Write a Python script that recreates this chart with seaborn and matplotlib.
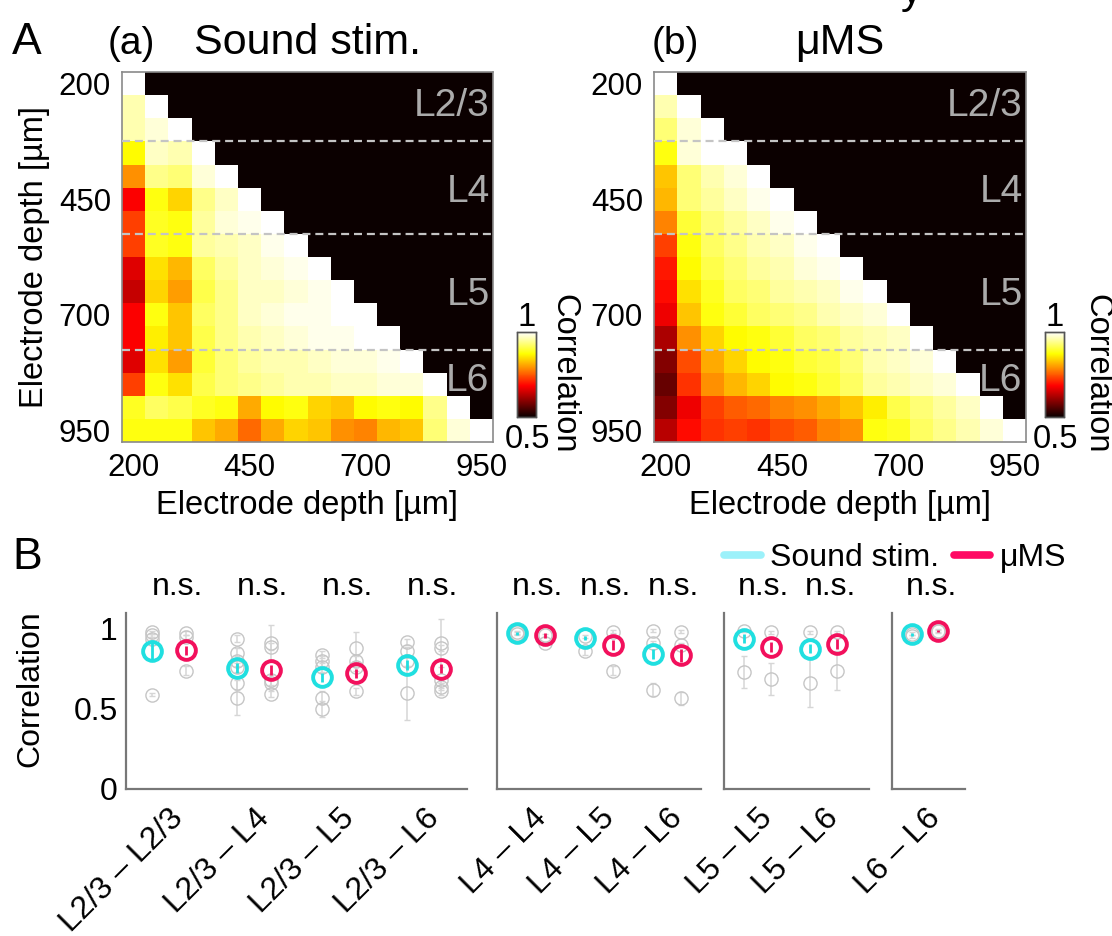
import numpy as np
import pandas as pd
import matplotlib
matplotlib.use("Agg")
import matplotlib.pyplot as plt
import seaborn as sns
from matplotlib.lines import Line2D

# ---------------- data ----------------
depths = [200, 250, 300, 350, 400, 450, 500, 550, 600, 650, 700, 750, 800, 850, 900, 950]
depth_ticks = [200, 450, 700, 950]
layer_names = ["L2/3", "L4", "L5", "L6"]
layer_bounds = [3, 7, 12]          # electrode index where a new layer begins

sound_rows = [
    [1.00],
    [0.96, 1.00],
    [0.96, 0.98, 1.00],
    [0.87, 0.97, 0.96, 1.00],
    [0.79, 0.94, 0.93, 0.98, 1.00],
    [0.68, 0.88, 0.84, 0.94, 0.97, 1.00],
    [0.73, 0.89, 0.88, 0.95, 0.98, 0.99, 1.00],
    [0.73, 0.89, 0.88, 0.95, 0.96, 0.97, 0.99, 1.00],
    [0.66, 0.85, 0.82, 0.92, 0.95, 0.97, 0.98, 0.99, 1.00],
    [0.64, 0.84, 0.80, 0.91, 0.94, 0.97, 0.97, 0.98, 0.99, 1.00],
    [0.68, 0.88, 0.83, 0.92, 0.94, 0.97, 0.98, 0.99, 0.99, 1.00, 1.00],
    [0.68, 0.86, 0.83, 0.91, 0.94, 0.96, 0.97, 0.98, 0.99, 0.99, 1.00, 1.00],
    [0.66, 0.85, 0.80, 0.90, 0.93, 0.95, 0.96, 0.96, 0.97, 0.98, 0.98, 0.99, 1.00],
    [0.73, 0.88, 0.85, 0.91, 0.93, 0.94, 0.95, 0.96, 0.96, 0.97, 0.97, 0.98, 0.98, 1.00],
    [0.89, 0.92, 0.91, 0.89, 0.88, 0.81, 0.87, 0.88, 0.84, 0.83, 0.87, 0.88, 0.87, 0.94, 1.00],
    [0.88, 0.88, 0.88, 0.83, 0.81, 0.76, 0.81, 0.84, 0.83, 0.79, 0.78, 0.82, 0.83, 0.93, 0.98, 1.00],
]

ums_rows = [
    [1.00],
    [0.96, 1.00],
    [0.93, 0.98, 1.00],
    [0.88, 0.98, 1.00, 1.00],
    [0.83, 0.93, 0.96, 0.98, 1.00],
    [0.82, 0.93, 0.95, 0.97, 0.99, 1.00],
    [0.78, 0.90, 0.93, 0.95, 0.97, 0.99, 1.00],
    [0.73, 0.88, 0.92, 0.94, 0.96, 0.97, 0.99, 1.00],
    [0.70, 0.87, 0.91, 0.93, 0.95, 0.96, 0.98, 0.99, 1.00],
    [0.69, 0.85, 0.89, 0.92, 0.93, 0.95, 0.96, 0.97, 0.99, 1.00],
    [0.67, 0.83, 0.88, 0.90, 0.92, 0.93, 0.94, 0.96, 0.97, 0.98, 1.00],
    [0.62, 0.79, 0.84, 0.87, 0.88, 0.90, 0.92, 0.93, 0.95, 0.96, 0.97, 1.00],
    [0.59, 0.74, 0.81, 0.84, 0.87, 0.88, 0.90, 0.91, 0.93, 0.96, 0.97, 0.98, 1.00],
    [0.57, 0.72, 0.79, 0.82, 0.84, 0.87, 0.88, 0.90, 0.92, 0.95, 0.96, 0.97, 0.98, 1.00],
    [0.59, 0.67, 0.73, 0.75, 0.76, 0.78, 0.79, 0.81, 0.83, 0.86, 0.91, 0.93, 0.95, 0.97, 1.00],
    [0.63, 0.69, 0.72, 0.73, 0.72, 0.74, 0.75, 0.78, 0.79, 0.88, 0.89, 0.92, 0.94, 0.96, 0.98, 1.00],
]

pair_groups = [
    ["L2/3 – L2/3", "L2/3 – L4", "L2/3 – L5", "L2/3 – L6"],
    ["L4 – L4", "L4 – L5", "L4 – L6"],
    ["L5 – L5", "L5 – L6"],
    ["L6 – L6"],
]
sig_labels = ["n.s."] * 10

sound_mean = [0.865, 0.757, 0.697, 0.775, 0.972, 0.944, 0.842, 0.940, 0.878, 0.968]
sound_sem = [0.065, 0.030, 0.030, 0.030, 0.010, 0.015, 0.030, 0.030, 0.030, 0.010]
ums_mean = [0.866, 0.745, 0.723, 0.753, 0.961, 0.900, 0.835, 0.889, 0.905, 0.988]
ums_sem = [0.030, 0.030, 0.030, 0.030, 0.015, 0.030, 0.040, 0.030, 0.030, 0.005]

sound_indiv = [
    [0.98, 0.96, 0.94, 0.59],
    [0.94, 0.85, 0.80, 0.76, 0.66, 0.57],
    [0.84, 0.80, 0.76, 0.57, 0.50],
    [0.92, 0.86, 0.80, 0.60],
    [0.98, 0.97],
    [0.955, 0.86],
    [0.99, 0.915, 0.62],
    [0.99, 0.73],
    [0.98, 0.665],
    [0.97, 0.955],
]
sound_indiv_err = [
    [0.01, 0.01, 0.01, 0.01],
    [0.02, 0.03, 0.03, 0.03, 0.04, 0.11],
    [0.02, 0.03, 0.03, 0.04, 0.05],
    [0.02, 0.03, 0.03, 0.17],
    [0.01, 0.01],
    [0.01, 0.02],
    [0.01, 0.01, 0.04],
    [0.01, 0.10],
    [0.01, 0.15],
    [0.01, 0.01],
]
ums_indiv = [
    [0.975, 0.95, 0.74],
    [0.915, 0.89, 0.68, 0.66, 0.595],
    [0.88, 0.80, 0.765, 0.61],
    [0.91, 0.88, 0.68, 0.64, 0.61],
    [0.96, 0.91],
    [0.983, 0.74],
    [0.983, 0.90, 0.567],
    [0.98, 0.685],
    [0.98, 0.74],
    [0.99, 0.985],
]
ums_indiv_err = [
    [0.01, 0.01, 0.03],
    [0.11, 0.02, 0.03, 0.03, 0.02],
    [0.10, 0.03, 0.03, 0.02],
    [0.15, 0.02, 0.02, 0.02, 0.02],
    [0.01, 0.01],
    [0.01, 0.03],
    [0.01, 0.01, 0.04],
    [0.01, 0.10],
    [0.01, 0.12],
    [0.01, 0.01],
]

conditions = ["Sound stim.", "μMS"]

# ---------------- style ----------------
sns.set_theme(style="white")
plt.rcParams["font.family"] = ["Liberation Sans", "DejaVu Sans"]
plt.rcParams["mathtext.default"] = "regular"
for key in ["text.color", "axes.labelcolor", "xtick.color", "ytick.color"]:
    plt.rcParams[key] = "black"

W, H = 1112, 936
fig = plt.figure(figsize=(W / 100, H / 100), dpi=100)


def px_axes(x0, y0, x1, y1):
    return fig.add_axes([x0 / W, 1 - y1 / H, (x1 - x0) / W, (y1 - y0) / H])


def tri_matrix(rows):
    n = len(rows)
    m = np.full((n, n), np.nan)
    for i, r in enumerate(rows):
        m[i, :len(r)] = r
    return pd.DataFrame(m, index=depths, columns=depths)


black = plt.get_cmap("hot")(0.0)
label_fs = 23.5
tick_fs = 22.5
b_fs = 23

heat_specs = [
    (sound_rows, (122, 72, 493, 442), (517, 332, 536, 417), 564, "(a)", 108, "Sound stim.", True),
    (ums_rows, (654, 72, 1026, 442), (1045, 332, 1064, 417), 1097, "(b)", 652, "μMS", False),
]

for rows, hbox, cbox, clab_x, tag, tag_x, title, show_ylabel in heat_specs:
    ax = px_axes(*hbox)
    cax = px_axes(*cbox)
    df = tri_matrix(rows)
    ax.set_facecolor(black)
    sns.heatmap(df, ax=ax, cmap="hot", vmin=0.5, vmax=1.0, mask=df.isna(),
                cbar_ax=cax, xticklabels=False, yticklabels=False)
    n = len(depths)
    ax.set_xlim(0, n)
    ax.set_ylim(n, 0)
    tick_pos = [depths.index(d) + 0.5 for d in depth_ticks]
    ax.set_xticks(tick_pos)
    ax.set_xticklabels([str(d) for d in depth_ticks], fontsize=tick_fs, rotation=0)
    ax.set_yticks(tick_pos)
    ax.set_yticklabels([str(d) for d in depth_ticks], fontsize=tick_fs, rotation=0)
    ax.tick_params(length=0, pad=8)
    ax.set_xlabel("Electrode depth [µm]", fontsize=label_fs, labelpad=5)
    if show_ylabel:
        ax.set_ylabel("Electrode depth [µm]", fontsize=label_fs, labelpad=6)
    else:
        ax.set_ylabel("")
    for s in ax.spines.values():
        s.set_visible(True)
        s.set_color("#8a8a8a")
        s.set_linewidth(1.2)
    for b in layer_bounds:
        ax.axhline(b, color="#c4c4c4", lw=1.6, ls=(0, (3.6, 2.2)), zorder=5)
    layer_y = [1.45, 5.2, 9.65, 13.35]
    for name, yy in zip(layer_names, layer_y):
        ax.text(15.85, yy, name, color="#ababab", fontsize=28, ha="right", va="center", zorder=6)
    # colorbar
    cax.set_yticks([])
    cax.tick_params(length=0)
    for s in cax.spines.values():
        s.set_visible(True)
        s.set_color("#555555")
        s.set_linewidth(1.0)
    cax.text(0.5, 1.07, "1", transform=cax.transAxes, ha="center", va="baseline", fontsize=label_fs)
    cax.text(0.55, -0.36, "0.5", transform=cax.transAxes, ha="center", va="baseline", fontsize=label_fs)
    fig.text(clab_x / W, 1 - 374 / H, "Correlation", rotation=270, ha="center", va="center",
             fontsize=label_fs)
    # titles
    fig.text(tag_x / W, 1 - 54 / H, tag, fontsize=28, ha="left", va="baseline")
    cx = (hbox[0] + hbox[2]) / 2
    fig.text(cx / W, 1 - 54 / H, title, fontsize=31, ha="center", va="baseline")

fig.text(12 / W, 1 - 54 / H, "A", fontsize=32, ha="left", va="baseline")
fig.text(12 / W, 1 - 569 / H, "B", fontsize=32, ha="left", va="baseline")
# descender of a clipped heading line above the figure
fig.text(901 / W, 1.0 - 3 / H, "y", fontsize=31, ha="left", va="baseline")

# ---------------- panel B ----------------
cyan = "#20dfe0"
pink = "#f2105c"
gray_c = "#c6c6c6"
gray_e = "#d6d6d6"
offset = 0.2

b_boxes = [(126, 613, 467, 789, (-0.5, 3.5)),
           (497, 613, 701, 789, (-0.5, 2.5)),
           (724, 613, 869, 789, (-0.5, 1.68)),
           (892, 613, 965, 789, (-0.5, 0.6))]

k = 0
for gi, (group, (x0, y0, x1, y1, xl)) in enumerate(zip(pair_groups, b_boxes)):
    ax = px_axes(x0, y0, x1, y1)
    ax.set_facecolor("white")
    for i, pair in enumerate(group):
        for cond_vals, cond_err, mean, sem, col, dx in [
            (sound_indiv[k], sound_indiv_err[k], sound_mean[k], sound_sem[k], cyan, -offset),
            (ums_indiv[k], ums_indiv_err[k], ums_mean[k], ums_sem[k], pink, offset),
        ]:
            xs = [i + dx] * len(cond_vals)
            ax.errorbar(xs, cond_vals, yerr=cond_err, fmt="o", ms=9.5, mfc="none",
                        mec=gray_c, mew=1.0, ecolor=gray_e, elinewidth=1.1, capsize=2,
                        zorder=2, clip_on=False)
            ax.errorbar([i + dx], [mean], yerr=[sem], fmt="o", ms=13.5, mfc="none",
                        mec=col, mew=2.8, ecolor=col, elinewidth=2.0, capsize=0,
                        zorder=4, clip_on=False)
        ax.text(i + 0.1, 1.21, sig_labels[k], ha="center", va="baseline", fontsize=b_fs,
                clip_on=False)
        k += 1
    ax.set_xlim(*xl)
    ax.set_ylim(0, 1.1)
    ax.set_xticks(range(len(group)))
    ax.set_xticklabels(group, rotation=45, ha="right", rotation_mode="anchor",
                       fontsize=b_fs)
    ax.set_yticks([0, 0.5, 1])
    if gi == 0:
        ax.set_yticklabels(["0", "0.5", "1"], fontsize=b_fs)
        ax.set_ylabel("Correlation", fontsize=b_fs)
        ax.yaxis.set_label_coords(-0.235, 0.57)
    else:
        ax.set_yticklabels([])
    ax.tick_params(direction="in", length=5, width=1.1, color="#666666", pad=6)
    ax.tick_params(axis="x", pad=10)
    for side in ["top", "right"]:
        ax.spines[side].set_visible(False)
    for side in ["left", "bottom"]:
        ax.spines[side].set_color("#777777")
        ax.spines[side].set_linewidth(1.6)

handles = [Line2D([], [], color="#9cf1fa", lw=5.5), Line2D([], [], color="#ff0a64", lw=5.5)]
fig.legend(handles, conditions, loc="center left", bbox_to_anchor=(724 / W, 1 - 558 / H),
           ncol=2, frameon=False, fontsize=b_fs, handlelength=1.15, handletextpad=0.3,
           columnspacing=0.45, borderpad=0, borderaxespad=0)

fig.savefig("out.png", dpi=100, facecolor="white")
